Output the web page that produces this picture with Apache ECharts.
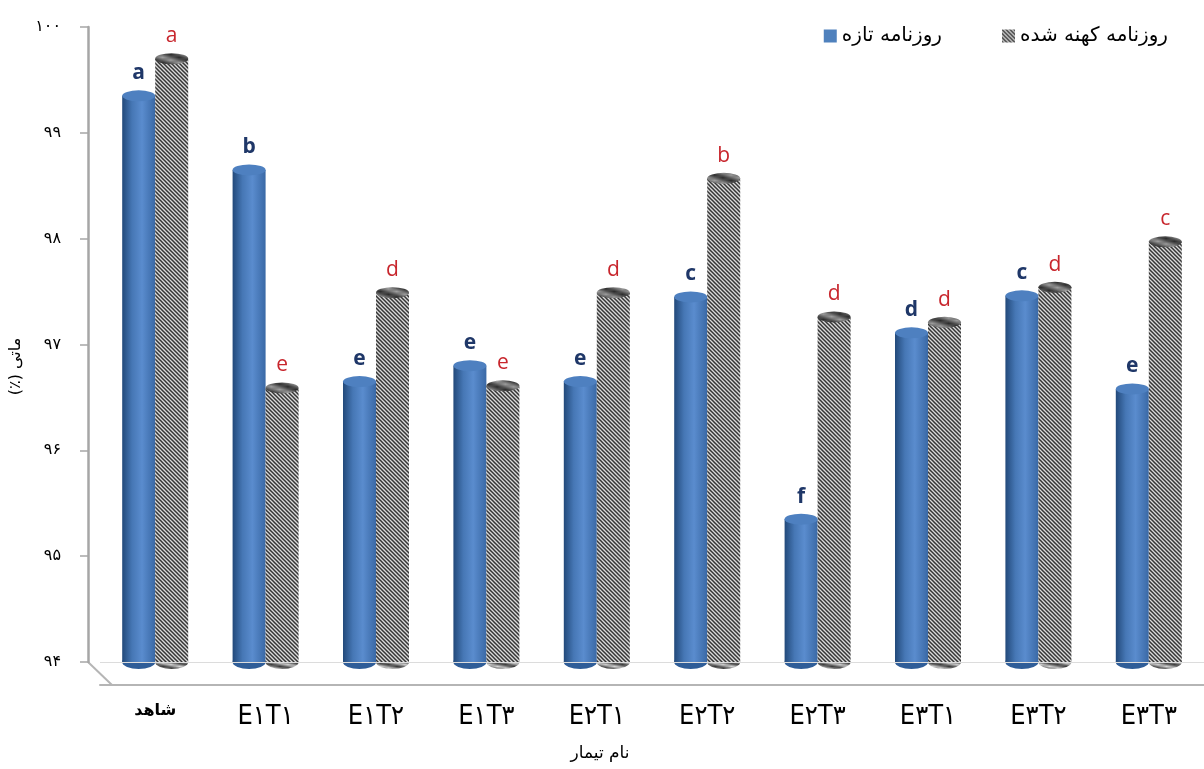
<!DOCTYPE html>
<html>
<head>
<meta charset="utf-8">
<script src="https://cdn.jsdelivr.net/npm/echarts@6/dist/echarts.min.js"></script>
<style>html,body{margin:0;padding:0;background:#fff;}#c{width:1204px;height:769px;}</style>
</head>
<body>
<div id="c"></div>
<script>
const categories = ['شاهد','E۱T۱','E۱T۲','E۱T۳','E۲T۱','E۲T۲','E۲T۳','E۳T۱','E۳T۲','E۳T۳'];
const freshValues = [99.35, 98.65, 96.65, 96.80, 96.65, 97.45, 95.35, 97.11, 97.46, 96.58];
const agedValues  = [99.70, 96.59, 97.49, 96.61, 97.49, 98.57, 97.26, 97.21, 97.54, 97.97];
const freshLetters = ['a','b','e','e','e','c','f','d','c','e'];
const agedLetters  = ['a','e','d','e','d','b','d','d','d','c'];
const yTicks = [94, 95, 96, 97, 98, 99, 100];
const yTickLabels = ['۹۴','۹۵','۹۶','۹۷','۹۸','۹۹','۱۰۰'];
const freshName = 'روزنامه تازه';
const agedName = 'روزنامه کهنه شده';
const xTitle = 'نام تیمار';
const yTitle = '\u202Bماتی (٪)\u202C';

function hatch(bg, fg, s) {
  const c = document.createElement('canvas');
  c.width = s; c.height = s;
  const g = c.getContext('2d');
  g.fillStyle = bg; g.fillRect(0, 0, s, s);
  g.strokeStyle = fg; g.lineWidth = 1.5;
  g.beginPath();
  g.moveTo(-1, -1); g.lineTo(s + 1, s + 1);
  g.moveTo(-2, s - 2); g.lineTo(2, s + 2);
  g.moveTo(s - 2, -2); g.lineTo(s + 2, 2);
  g.stroke();
  return { image: c, repeat: 'repeat' };
}
const grayPattern = hatch('#dadada', '#353535', 4);
const grayTopPattern = hatch('#a0a0a0', '#2a2a2a', 4);

const blueGrad = new echarts.graphic.LinearGradient(0, 0, 1, 0, [
  { offset: 0, color: '#22497a' },
  { offset: 0.3, color: '#4677b5' },
  { offset: 0.6, color: '#5a8cce' },
  { offset: 1, color: '#3a69a6' }
]);

const chart = echarts.init(document.getElementById('c'), null, { renderer: 'canvas' });
const BW = 33;
chart.setOption({
  animation: false,
  backgroundColor: '#ffffff',
  textStyle: { fontFamily: 'DejaVu Sans' },
  legend: {
    data: [
      { name: freshName, icon: 'rect', itemStyle: { color: '#4f81bd' } },
      { name: agedName, icon: 'rect' }
    ],
    top: 21, right: 31,
    itemWidth: 13, itemHeight: 13, itemGap: 60,
    textStyle: { fontSize: 20, color: '#000', fontFamily: 'DejaVu Sans' }
  },
  grid: { left: 100, width: 1105, top: 27, bottom: 107, containLabel: false },
  xAxis: {
    type: 'category',
    data: categories,
    offset: 23,
    axisLine: { lineStyle: { color: '#b5b5b5', width: 2 } },
    axisTick: { show: false },
    axisLabel: {
      margin: 18,
      color: '#000',
      formatter: (v, i) => i === 0 ? '{s|' + v + '}' : '{e|' + v + '}',
      rich: {
        s: { fontSize: 16, fontFamily: 'DejaVu Sans', fontWeight: 'bold', color: '#000' },
        e: { fontSize: 27, fontFamily: 'Liberation Sans Narrow, DejaVu Sans Condensed', color: '#000' }
      }
    },
    name: xTitle,
    nameLocation: 'middle',
    nameGap: 60,
    nameTextStyle: { fontSize: 17, color: '#000', padding: [0, 104, 0, 0] }
  },
  yAxis: {
    type: 'value',
    min: 94, max: 100, interval: 1,
    offset: 12,
    axisLine: { show: true, lineStyle: { color: '#a6a6a6', width: 2.5 } },
    axisTick: { show: true, length: 8, lineStyle: { color: '#a6a6a6', width: 1.5 } },
    splitLine: { show: false },
    axisLabel: {
      margin: 27, fontSize: 16, color: '#000',
      formatter: v => yTickLabels[yTicks.indexOf(v)]
    },
    name: yTitle,
    nameLocation: 'middle',
    nameRotate: 90,
    nameGap: 56,
    nameTextStyle: { fontSize: 16, color: '#000', padding: [0, 44, 0, 0] }
  },
  graphic: [
    { type: 'polyline', shape: { points: [[88, 662], [112, 685]] }, style: { stroke: '#b5b5b5', lineWidth: 2 }, silent: true }
  ],
  series: [
    {
      name: freshName, type: 'bar', data: freshValues,
      barWidth: BW, barGap: '0%', z: 2,
      itemStyle: { color: blueGrad },
      label: {
        show: true, position: 'top', distance: 12,
        formatter: p => freshLetters[p.dataIndex],
        color: '#1f3768', fontWeight: 'bold', fontSize: 21, fontFamily: 'Open Sans'
      },
      markLine: {
        silent: true, symbol: 'none', label: { show: false },
        lineStyle: { color: '#dcdcdc', type: 'solid', width: 1 },
        data: [{ yAxis: 94 }]
      }
    },
    {
      name: agedName, type: 'bar', data: agedValues,
      barWidth: BW, barGap: '0%', z: 2,
      itemStyle: { color: grayPattern },
      label: {
        show: true, position: 'top', distance: 12,
        formatter: p => agedLetters[p.dataIndex],
        color: '#c8262d', fontSize: 21, fontFamily: 'Open Sans'
      }
    },
    {
      name: 'freshTop', type: 'pictorialBar', data: freshValues,
      symbol: 'circle', symbolSize: [BW, 11], symbolPosition: 'end',
      symbolOffset: ['-50%', '-50%'], z: 3, silent: true,
      itemStyle: { color: '#4e80c0' }
    },
    {
      name: 'agedTop', type: 'pictorialBar', data: agedValues,
      symbol: 'circle', symbolSize: [BW, 11], symbolPosition: 'end',
      symbolOffset: ['50%', '-50%'], z: 3, silent: true,
      itemStyle: { color: grayTopPattern }
    },
    {
      name: 'freshBase', type: 'pictorialBar', data: freshValues.map(() => 94),
      symbol: 'circle', symbolSize: [BW, 14], symbolPosition: 'end',
      symbolOffset: ['-50%', '-50%'], z: 1, silent: true,
      itemStyle: { color: '#2f5d98' }
    },
    {
      name: 'agedBase', type: 'pictorialBar', data: agedValues.map(() => 94),
      symbol: 'circle', symbolSize: [BW, 14], symbolPosition: 'end',
      symbolOffset: ['50%', '-50%'], z: 1, silent: true,
      itemStyle: { color: grayPattern }
    }
  ]
});
</script>
</body>
</html>
